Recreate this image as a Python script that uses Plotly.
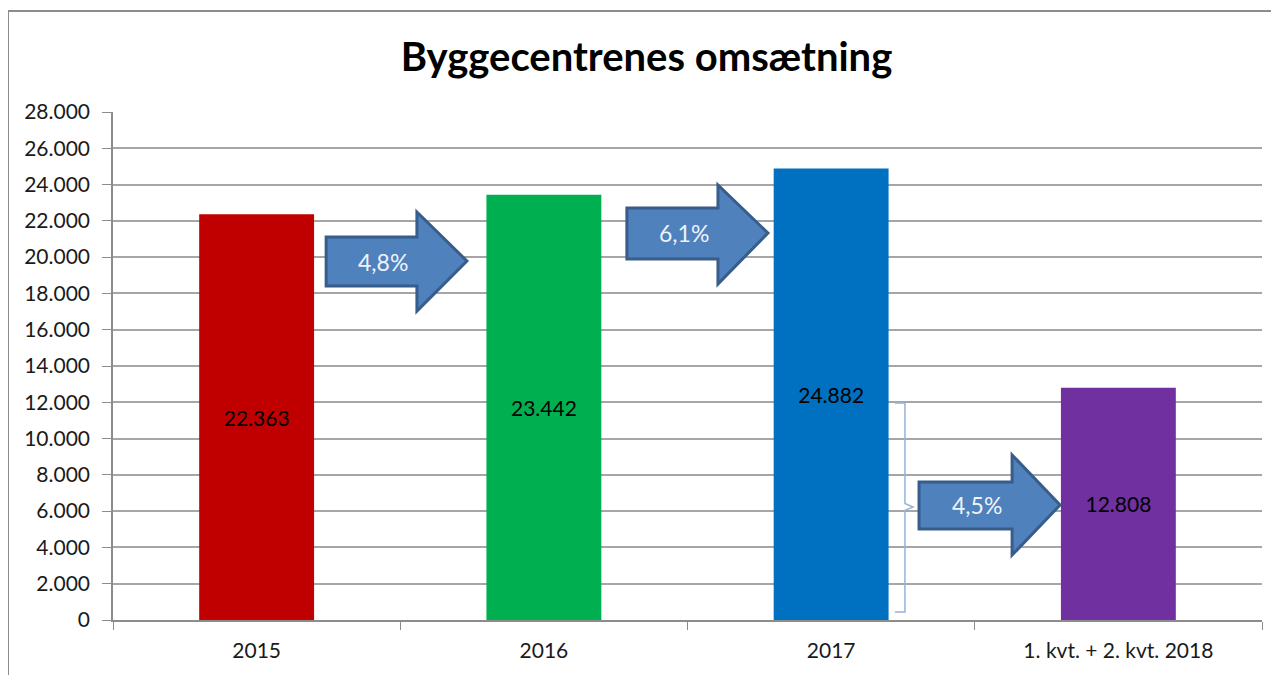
import plotly.graph_objects as go

# data
categories = ['2015', '2016', '2017', '1. kvt. + 2. kvt. 2018']
turnover = [22363, 23442, 24882, 12808]
growth_labels = ['4,8%', '6,1%', '4,5%']

bar_colors = ['#C00000', '#00B050', '#0070C0', '#7030A0']
FONT = 'Lato'


def block_arrow(x0, xb, xt, yb0, yb1, yh0, yh1, yt):
    """Path for a right-pointing block arrow in data units."""
    return (f'M {x0},{yb0} L {xb},{yb0} L {xb},{yh0} L {xt},{yt} '
            f'L {xb},{yh1} L {xb},{yb1} L {x0},{yb1} Z')


fig = go.Figure()

fig.add_trace(go.Bar(
    x=categories, y=turnover,
    marker={'color': bar_colors, 'line': {'width': 0}},
    width=0.4,
    texttemplate='%{y:,.0f}', textposition='inside',
    insidetextanchor='middle', textangle=0,
    textfont={'family': FONT, 'size': 21, 'color': 'black'},
    hoverinfo='skip',
))

# growth arrows (category index, value)
arrows = [
    (0.242, 0.558, 0.732, 18410, 21110, 17030, 22490, 19790),
    (1.289, 1.606, 1.780, 19900, 22710, 18520, 23980, 21330),
    (2.306, 2.630, 2.797, 5020, 7610, 3580, 9100, 6340),
]
shapes = []
for (x0, xb, xt, yb0, yb1, yh0, yh1, yt), lab in zip(arrows, growth_labels):
    shapes.append(dict(
        type='path', xref='x', yref='y',
        path=block_arrow(x0, xb, xt, yb0, yb1, yh0, yh1, yt),
        fillcolor='#4F81BD', line={'color': '#385D8A', 'width': 3},
        layer='above',
    ))
    fig.add_annotation(
        x=(x0 + xb) / 2 + 0.04, y=(yb0 + yb1) / 2, text=lab, showarrow=False,
        xref='x', yref='y',
        font={'family': FONT, 'size': 23, 'color': '#EEF3FA'},
    )

# brace next to the 2017 bar
shapes.append(dict(
    type='path', xref='x', yref='y',
    path=('M 2.222,11960 L 2.257,11960 L 2.257,6420 L 2.285,6230 '
          'L 2.257,6040 L 2.257,440 L 2.222,440'),
    line={'color': '#95B3D7', 'width': 1.5}, layer='above',
))

# outer chart frame
shapes.append(dict(
    type='rect', xref='paper', yref='paper',
    x0=-0.0914, x1=1.2, y0=-0.4, y1=1.1988,
    line={'color': '#8C8C8C', 'width': 2}, layer='above',
))

fig.update_layout(
    width=1279, height=675,
    margin={'l': 105, 'r': 25, 't': 104, 'b': 63},
    paper_bgcolor='white', plot_bgcolor='white',
    separators=',.',
    showlegend=False,
    shapes=shapes,
    title={
        'text': '<b>Byggecentrenes omsætning</b>',
        'x': 0.4992, 'xanchor': 'center', 'y': 0.9274, 'yanchor': 'middle',
        'font': {'family': FONT, 'size': 40, 'color': 'black'},
    },
    font={'family': FONT, 'color': '#1A1A1A'},
)

fig.update_xaxes(
    type='category', range=[-0.5, 3.5],
    showline=True, linecolor='#8C8C8C', linewidth=1.5,
    ticks='outside', tickson='boundaries', ticklen=8, tickcolor='#8C8C8C',
    tickfont={'family': FONT, 'size': 21, 'color': '#1A1A1A'},
    ticklabelstandoff=11, showgrid=False,
)
fig.update_yaxes(
    range=[0, 28000], dtick=2000, tickformat=',.0f',
    showline=True, linecolor='#8C8C8C', linewidth=1.5,
    ticks='outside', ticklen=9, tickcolor='#8C8C8C',
    showgrid=True, gridcolor='#A6A6A6', gridwidth=1.5,
    zeroline=False,
    tickfont={'family': FONT, 'size': 21, 'color': '#1A1A1A'},
    ticklabelstandoff=8,
)

fig.write_html('out.html')
